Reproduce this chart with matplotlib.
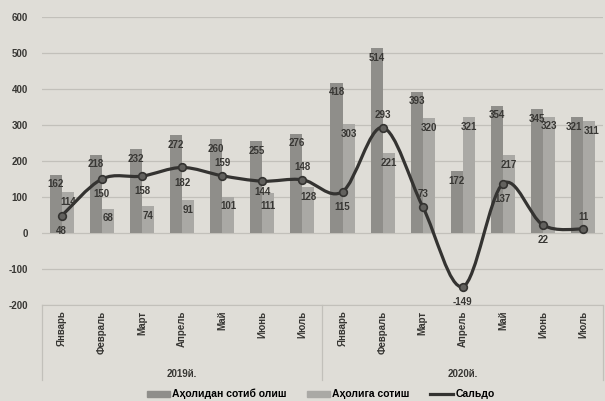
import numpy as np
import matplotlib.pyplot as plt
from matplotlib.path import Path
from matplotlib.patches import PathPatch, Patch
from matplotlib.lines import Line2D
import matplotlib.transforms as mtransforms

plt.rcParams['font.family'] = ['Liberation Sans', 'DejaVu Sans']
plt.rcParams['axes.unicode_minus'] = False

# Data
months = ['Январь', 'Февраль', 'Март', 'Апрель', 'Май', 'Июнь', 'Июль'] * 2
years = ['2019й.', '2020й.']
buy = [162, 218, 232, 272, 260, 255, 276, 418, 514, 393, 172, 354, 345, 321]
sell = [114, 68, 74, 91, 101, 111, 128, 303, 221, 320, 321, 217, 323, 311]
saldo = [48, 150, 158, 182, 159, 144, 148, 115, 293, 73, -149, 137, 22, 11]
saldo_pos = ['below', 'below', 'below', 'below', 'above', 'below', 'above',
             'below', 'above', 'above', 'below', 'below', 'below', 'above']

bg = '#dfddd7'
buy_color = '#8f8e8a'
sell_color = '#aaa9a5'
line_color = '#343331'
text_color = '#383734'

fig = plt.figure(figsize=(6.05, 4.01), dpi=100, facecolor=bg)
ax = fig.add_axes([0.069, 0.2394, 0.928, 0.7182], facecolor=bg)

x = np.arange(len(months))
w = 0.3
ax.bar(x - 0.15, buy, width=w, color=buy_color, zorder=2)
ax.bar(x + 0.15, sell, width=w, color=sell_color, zorder=2)

# bar labels, just inside the top
for i in range(len(x)):
    dx = -2 if i == len(x) - 1 else 0
    ax.annotate(str(buy[i]), (x[i] - 0.15, buy[i]), xytext=(dx, -7),
                textcoords='offset points', ha='center', va='center',
                fontsize=7, fontweight='bold', color=text_color, zorder=4)
    dx = 2 if i == len(x) - 1 else 0
    dy = -9 if i == 5 else -7
    ax.annotate(str(sell[i]), (x[i] + 0.15, sell[i]), xytext=(dx, dy),
                textcoords='offset points', ha='center', va='center',
                fontsize=7, fontweight='bold', color=text_color, zorder=4)

# smoothed saldo line (Catmull-Rom as cubic bezier segments)
pts = np.column_stack([x, saldo]).astype(float)
verts = [pts[0]]
codes = [Path.MOVETO]
n = len(pts)
for i in range(n - 1):
    p0 = pts[i - 1] if i > 0 else pts[i]
    p1 = pts[i]
    p2 = pts[i + 1]
    p3 = pts[i + 2] if i + 2 < n else pts[i + 1]
    c1 = p1 + (p2 - p0) / 6
    c2 = p2 - (p3 - p1) / 6
    verts += [c1, c2, p2]
    codes += [Path.CURVE4] * 3
ax.add_patch(PathPatch(Path(verts, codes), facecolor='none',
                       edgecolor=line_color, lw=2.3, zorder=3))
ax.plot(x, saldo, 'o', color=line_color, markersize=5.5,
        markerfacecolor='#62615e', markeredgewidth=1.2, zorder=3)

for i in range(len(x)):
    dy = 9 if saldo_pos[i] == 'above' else -11
    if i == 5:
        dy = -8
    ax.annotate(str(saldo[i]), (x[i], saldo[i]), xytext=(0, dy),
                textcoords='offset points', ha='center', va='center',
                fontsize=7, fontweight='bold', color=text_color, zorder=4)

ax.set_ylim(-200, 600)
ax.set_xlim(-0.5, len(x) - 0.5)
ax.set_yticks(range(-200, 601, 100))
ax.yaxis.grid(True, color='#c2c0ba', lw=0.9, zorder=0)
ax.set_axisbelow(True)
for s in ['top', 'right', 'left']:
    ax.spines[s].set_visible(False)
ax.spines['bottom'].set_color('#c2c0ba')
ax.tick_params(axis='y', length=0, pad=10, labelsize=7, labelcolor=text_color)
ax.tick_params(axis='x', length=0, pad=4, labelsize=7, labelcolor=text_color)
ax.set_xticks(x)
ax.set_xticklabels(months, rotation=90, fontweight='bold', va='top')
for lab in ax.get_yticklabels():
    lab.set_fontweight('bold')

# year group labels and separators
trans = mtransforms.blended_transform_factory(ax.transData, ax.transAxes)
for xs in [-0.5, 6.5, 13.5]:
    ax.plot([xs, xs], [0, -0.26], color='#c2c0ba', lw=0.9,
            transform=trans, clip_on=False)
for j, yr in enumerate(years):
    ax.text(3 + 7 * j, -0.24, yr, transform=trans, ha='center', va='center',
            fontsize=7, fontweight='bold', color=text_color)

handles = [Patch(color=buy_color), Patch(color=sell_color),
           Line2D([0], [0], color=line_color, lw=2.3)]
fig.legend(handles, ['Аҳолидан сотиб олиш', 'Аҳолига сотиш', 'Сальдо'],
           loc='center', bbox_to_anchor=(0.53, 0.017), ncol=3, frameon=False,
           handlelength=2.2, handleheight=0.5, columnspacing=2.0,
           handletextpad=0.2, prop={'weight': 'bold', 'size': 7.5})

fig.savefig('out.png', dpi=100, facecolor=bg)
